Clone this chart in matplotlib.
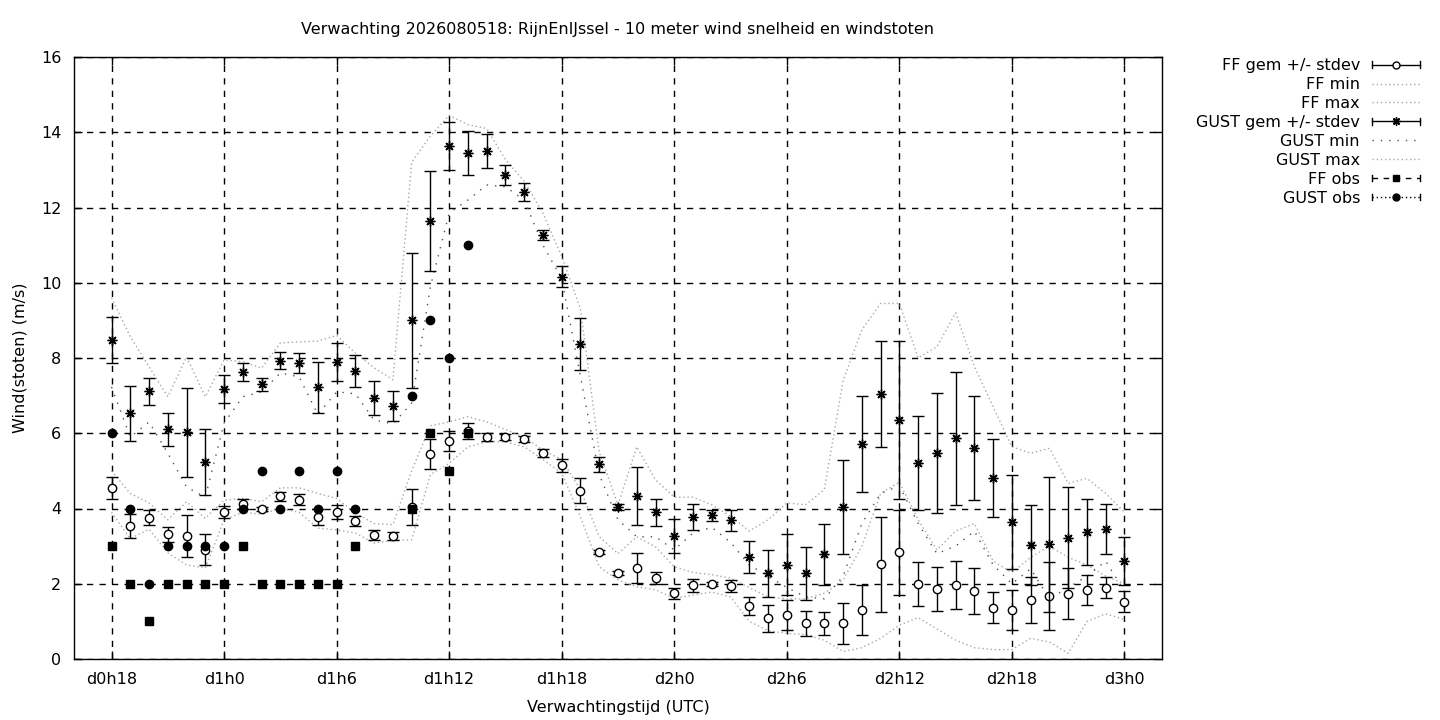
import numpy as np
import matplotlib
matplotlib.use("Agg")
from matplotlib import pyplot as plt
from matplotlib.lines import Line2D
from matplotlib.legend_handler import HandlerBase

# forecast hours (absolute hours from d0h0), hourly
hours = list(range(18, 73))

ff_mean = [4.55, 3.54, 3.75, 3.32, 3.27, 2.9, 3.9, 4.12, 3.98, 4.33, 4.23, 3.78, 3.9, 3.67, 3.3, 3.27,
           4.04, 5.45, 5.8, 6.06, 5.9, 5.9, 5.85, 5.48, 5.15, 4.47, 2.84, 2.29, 2.42, 2.15, 1.75, 1.96,
           2.0, 1.94, 1.41, 1.08, 1.17, 0.95, 0.95, 0.95, 1.3, 2.52, 2.84, 2.0, 1.86, 1.97, 1.81, 1.36,
           1.3, 1.57, 1.68, 1.73, 1.83, 1.89, 1.52]
ff_std = [0.3, 0.32, 0.2, 0.2, 0.57, 0.41, 0.16, 0.13, 0.05, 0.12, 0.15, 0.22, 0.18, 0.13, 0.13, 0.1,
          0.48, 0.4, 0.27, 0.22, 0.1, 0.08, 0.08, 0.1, 0.17, 0.33, 0.06, 0.05, 0.4, 0.15, 0.15, 0.17,
          0.05, 0.17, 0.23, 0.36, 0.4, 0.33, 0.3, 0.55, 0.67, 1.26, 1.13, 0.59, 0.58, 0.64, 0.62, 0.41,
          0.54, 0.6, 0.91, 0.68, 0.4, 0.28, 0.28]
ff_min = [3.9, 3.2, 3.45, 2.82, 2.5, 2.42, 3.7, 3.9, 3.85, 4.0, 3.9, 3.48, 3.43, 3.35, 3.08, 3.15,
          3.17, 4.9, 5.2, 5.64, 5.77, 5.77, 5.64, 5.3, 4.94, 3.78, 2.45, 2.1, 1.92, 1.84, 1.61, 1.7,
          1.78, 1.65, 1.0, 0.75, 0.68, 0.65, 0.5, 0.2, 0.3, 0.55, 0.9, 1.1, 0.8, 0.5, 0.3, 0.25,
          0.25, 0.55, 0.45, 0.15, 1.0, 1.2, 1.05]
ff_max = [5.0, 4.4, 4.15, 3.7, 4.18, 3.74, 4.22, 4.27, 4.18, 4.55, 4.55, 4.4, 4.27, 3.88, 3.6, 3.57,
          5.0, 6.2, 6.3, 6.44, 6.3, 6.1, 5.9, 5.55, 5.3, 4.5, 3.25, 2.8, 3.25, 2.98, 2.45, 2.3,
          2.24, 2.15, 1.9, 1.65, 1.6, 1.6, 1.75, 2.1, 3.0, 4.4, 4.7, 3.7, 2.9, 3.4, 3.6, 2.6,
          2.3, 2.7, 3.0, 2.7, 2.5, 2.2, 2.0]

gust_mean = [8.48, 6.53, 7.12, 6.1, 6.02, 5.23, 7.17, 7.63, 7.3, 7.93, 7.86, 7.22, 7.89, 7.66, 6.94, 6.73,
             9.0, 11.64, 13.64, 13.45, 13.5, 12.86, 12.4, 11.27, 10.16, 8.37, 5.18, 4.04, 4.33, 3.9, 3.27, 3.77,
             3.82, 3.69, 2.71, 2.28, 2.5, 2.28, 2.79, 4.04, 5.71, 7.04, 6.35, 5.21, 5.47, 5.87, 5.6, 4.81,
             3.64, 3.03, 3.05, 3.22, 3.37, 3.46, 2.6]
gust_std = [0.6, 0.73, 0.36, 0.43, 1.18, 0.87, 0.37, 0.23, 0.18, 0.22, 0.27, 0.67, 0.5, 0.43, 0.45, 0.4,
            1.8, 1.33, 0.64, 0.58, 0.46, 0.27, 0.24, 0.14, 0.28, 0.69, 0.2, 0.08, 0.78, 0.36, 0.46, 0.35,
            0.14, 0.28, 0.43, 0.62, 0.81, 0.71, 0.81, 1.26, 1.27, 1.41, 2.1, 1.26, 1.6, 1.77, 1.38, 1.04,
            1.24, 1.06, 1.8, 1.34, 0.87, 0.66, 0.63]
gust_min = [7.23, 5.9, 6.3, 5.47, 4.57, 4.3, 6.27, 6.97, 7.1, 7.6, 7.5, 6.5, 7.1, 7.05, 6.35, 6.25,
            6.8, 9.9, 11.85, 12.2, 12.6, 12.55, 12.2, 11.0, 10.1, 7.5, 4.9, 3.7, 3.25, 3.25, 2.9, 3.35,
            3.5, 3.1, 2.5, 2.2, 1.9, 1.65, 1.6, 2.2, 3.6, 4.4, 4.6, 3.6, 2.8, 3.0, 3.4, 2.5,
            2.0, 2.4, 1.6, 1.9, 2.2, 2.6, 1.8]
gust_max = [9.6, 8.57, 7.77, 6.97, 8.03, 6.97, 7.95, 7.9, 7.73, 8.4, 8.43, 8.45, 8.6, 8.13, 7.74, 7.42,
            13.2, 13.9, 14.45, 14.2, 14.1, 13.27, 12.7, 11.85, 10.7, 9.3, 5.5, 4.1, 5.64, 4.76, 4.3, 4.3,
            4.1, 3.8, 3.4, 3.7, 4.15, 4.1, 4.5, 7.4, 8.75, 9.45, 9.45, 8.0, 8.3, 9.2, 7.77, 6.7,
            5.64, 5.47, 5.6, 4.67, 4.8, 4.4, 3.9]

# observations (only first hours available)
obs_hours = list(range(18, 38))
ff_obs = [3, 2, 1, 2, 2, 2, 2, 3, 2, 2, 2, 2, 2, 3, np.nan, np.nan, 4, 6, 5, 6]
gust_obs = [6, 4, 2, 3, 3, 3, 3, 4, 5, 4, 5, 4, 5, 4, np.nan, np.nan, 7, 9, 8, 11]

tick_hours = list(range(18, 73, 6))
tick_labels = ["d%ih%i" % (h // 24, h % 24) for h in tick_hours]

title = "Verwachting 2026080518: RijnEnIJssel - 10 meter wind snelheid en windstoten"

light = "#a8a8a8"
dark = "#505050"
asterisk = (8, 2, 0)


class HandlerBar(HandlerBase):
    # gnuplot style legend sample: horizontal line with end ticks and a point in the middle
    def __init__(self, marker, mfc, ls, ms):
        super().__init__()
        self.marker = marker
        self.mfc = mfc
        self.ls = ls
        self.ms = ms

    def create_artists(self, legend, orig_handle, xdescent, ydescent, width, height, fontsize, trans):
        y = height / 2 - ydescent
        x0 = -xdescent
        x1 = width - xdescent
        h = height * 0.3
        arts = [Line2D([x0, x1], [y, y], color="k", lw=1, ls=self.ls),
                Line2D([x0, x0], [y - h, y + h], color="k", lw=1),
                Line2D([x1, x1], [y - h, y + h], color="k", lw=1),
                Line2D([(x0 + x1) / 2], [y], marker=self.marker, ms=self.ms, mfc=self.mfc,
                       mec="k", color="k", mew=1, ls="none")]
        for a in arts:
            a.set_transform(trans)
        return arts


plt.rcParams["font.family"] = "DejaVu Sans"
plt.rcParams["font.size"] = 11.5

fig = plt.figure(figsize=(14.4, 7.2), dpi=100)
ax = fig.add_axes([74 / 1440, 61 / 720, (1162 - 74) / 1440, (659 - 57) / 720])

ax.plot(hours, ff_min, color=light, lw=1, ls=(0, (1, 2)))
ax.plot(hours, ff_max, color=light, lw=1, ls=(0, (1, 2)))
ax.plot(hours, gust_min, color=dark, lw=1, ls=(0, (1, 5)))
ax.plot(hours, gust_max, color=light, lw=1, ls=(0, (1, 2)))

ax.errorbar(hours, ff_mean, yerr=ff_std, fmt="none", ecolor="k", elinewidth=1, capsize=4, capthick=1)
ax.plot(hours, ff_mean, ls="none", marker="o", ms=6, mfc="white", mec="k", mew=1)
ax.errorbar(hours, gust_mean, yerr=gust_std, fmt="none", ecolor="k", elinewidth=1, capsize=4, capthick=1)
ax.plot(hours, gust_mean, ls="none", marker=asterisk, ms=7, mec="k", mew=1)

ax.plot(obs_hours, ff_obs, ls="none", marker="s", ms=6, color="k")
ax.plot(obs_hours, gust_obs, ls="none", marker="o", ms=6, color="k")

ax.set_xlim(16, 74)
ax.set_ylim(0, 16)
ax.set_xticks(tick_hours)
ax.set_xticklabels(tick_labels)
ax.set_yticks(range(0, 17, 2))
ax.grid(True, color="k", ls=(0, (4.5, 4.5)), lw=1)
ax.tick_params(direction="in", top=True, right=True, length=6, width=1, pad=9)
for s in ax.spines.values():
    s.set_linewidth(1)

ax.set_xlabel("Verwachtingstijd (UTC)", labelpad=10)
ax.set_ylabel("Wind(stoten) (m/s)", labelpad=10)
fig.text(0.4285, 0.959, title, ha="center", va="center")

handles = [Line2D([], []) for _ in range(8)]
labels = ["FF gem +/- stdev", "FF min", "FF max", "GUST gem +/- stdev",
          "GUST min", "GUST max", "FF obs", "GUST obs"]
hmap = {
    handles[0]: HandlerBar("o", "white", "-", 5),
    handles[3]: HandlerBar(asterisk, "k", "-", 6),
    handles[6]: HandlerBar("s", "k", (0, (4, 4)), 5),
    handles[7]: HandlerBar("o", "k", (0, (1, 2)), 5),
}
handles[1] = Line2D([], [], color=light, lw=1, ls=(0, (1, 2)))
handles[2] = Line2D([], [], color=light, lw=1, ls=(0, (1, 2)))
handles[4] = Line2D([], [], color=dark, lw=1, ls=(0, (1, 5)))
handles[5] = Line2D([], [], color=light, lw=1, ls=(0, (1, 2)))

leg = fig.legend(handles, labels, handler_map=hmap, loc="upper right",
                 bbox_to_anchor=(1431 / 1440, 1 - 47 / 720), frameon=False,
                 markerfirst=False, handlelength=3.0, labelspacing=0.245, handletextpad=0.75,
                 borderaxespad=0.3)
for t in leg.get_texts():
    t.set_ha("right")

fig.savefig("out.png", dpi=100)
